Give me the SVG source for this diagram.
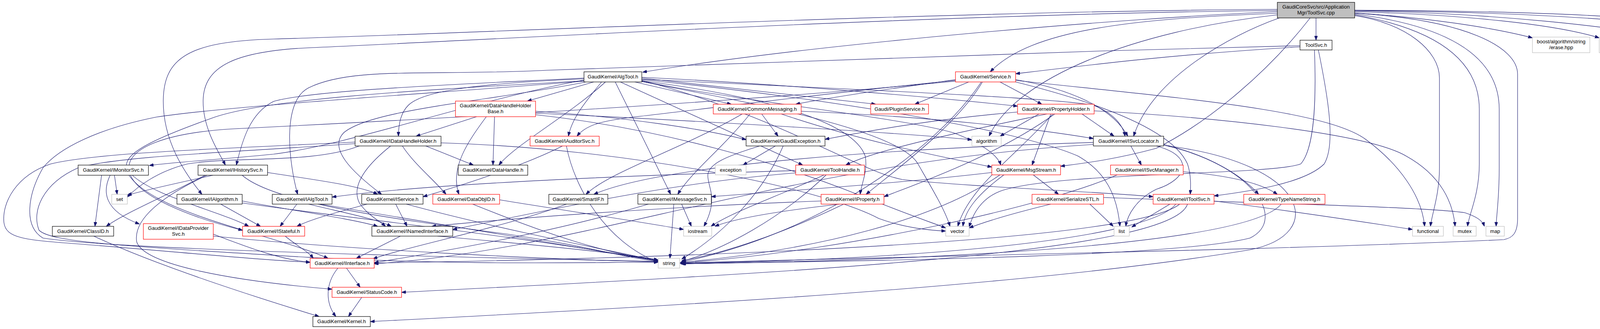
<svg xmlns="http://www.w3.org/2000/svg" width="4616" height="843" viewBox="0 0 4616 843">
<style>
.e{fill:none;stroke:#191970;stroke-width:1.1;marker-end:url(#a)}
.b{fill:#fff;stroke:#000;stroke-width:1.2}
.r{fill:#fff;stroke:#ff0000;stroke-width:1.2}
.g{fill:#fff;stroke:#bfbfbf;stroke-width:1.2}
.t{fill:#bfbfbf;stroke:#000;stroke-width:1.2}
text{font-family:"Liberation Sans",Arial,sans-serif;font-size:13px;fill:#000;text-anchor:middle}
</style>
<defs>
<marker id="a" viewBox="0 0 11 8" refX="11" refY="4" markerWidth="11" markerHeight="8" markerUnits="userSpaceOnUse" orient="auto"><path d="M0,0L11,4L0,8z" fill="#191970" stroke="#191970"/></marker>
</defs>
<rect width="4616" height="843" fill="#fff"/>
<g id="edges">
<path class="e" d="M3369,46 L3369,103"/>
<path class="e" d="M3468,33 C3650,45 3820,70 3923,97"/>
<path class="e" d="M3468,30 C3750,38 3980,62 4094,97"/>
<path class="e" d="M3468,28 C3800,32 4150,68 4296,103"/>
<path class="e" d="M3468,27 C3900,30 4350,55 4466,103"/>
<path class="e" d="M3468,26 C4000,28 4450,50 4556,103"/>
<path class="e" d="M3270,30 C2900,45 2100,110 1645,185"/>
<path class="e" d="M3270,34 C2900,48 2640,75 2535,184"/>
<path class="e" d="M3270,24 C2400,28 1100,90 700,100 C480,106 418,150 418,260 C418,360 470,440 517,498"/>
<path class="e" d="M3270,27 C2400,35 1200,105 800,122 C600,130 520,170 520,260 C520,330 560,390 577,423"/>
<path class="e" d="M3275,46 C3150,90 2950,200 2902,349"/>
<path class="e" d="M3354,46 C3250,180 3100,310 2960,380 C2850,410 2760,420 2715,426"/>
<path class="e" d="M3468,40 C3600,60 3685,130 3685,200 L3685,430 C3685,500 3665,550 3662,580"/>
<path class="e" d="M3468,38 C3650,70 3787,140 3787,280 L3787,420 C3787,500 3760,550 3757,580"/>
<path class="e" d="M3468,36 C3700,65 3838,140 3838,280 L3838,430 C3838,510 3831,550 3830,580"/>
<path class="e" d="M3468,34 C3750,50 3885,120 3885,190 L3885,560 C3885,600 3870,610 3850,614 C3300,640 2400,655 1740,674"/>
<path class="e" d="M3270,38 C2900,80 2600,200 2532,349"/>
<path class="e" d="M3328,120 C3000,140 2800,165 2600,189"/>
<path class="e" d="M3328,117 C2600,135 1700,165 1400,180 C1100,195 900,170 790,225 C720,260 740,420 762,498"/>
<path class="e" d="M3375,128 C3400,250 3420,370 3390,420 C3340,470 3200,490 3108,502"/>
<path class="e" d="M3365,128 C3370,260 3365,380 3330,420 C3250,450 2700,440 2560,490 C2510,510 2490,550 2481,582"/>
<path class="e" d="M1625,210 L1872,267"/>
<path class="e" d="M1520,210 L1350,259"/>
<path class="e" d="M1495,202 C1200,215 1080,235 1045,270 C1025,290 1020,320 1020,349"/>
<path class="e" d="M1540,210 C1500,260 1465,300 1455,349"/>
<path class="e" d="M1550,210 C1450,300 1320,370 1277,423"/>
<path class="e" d="M1643,200 L2242,267"/>
<path class="e" d="M1643,198 C2000,215 2400,250 2605,272"/>
<path class="e" d="M1495,205 C1200,260 900,370 700,395 C550,410 450,415 382,424"/>
<path class="e" d="M1495,200 C1200,215 800,230 700,260 C640,290 620,360 605,423"/>
<path class="e" d="M1500,210 C1250,260 950,280 880,340 C840,380 900,440 977,498"/>
<path class="e" d="M1495,207 C1100,230 700,250 550,300 C380,360 300,400 330,440 C380,500 560,540 637,580"/>
<path class="e" d="M1575,210 L1717,498"/>
<path class="e" d="M1588,210 L2055,423"/>
<path class="e" d="M1643,203 C2200,230 2700,250 2800,270 C2850,290 2875,320 2880,349"/>
<path class="e" d="M1643,206 C2000,300 2200,440 2310,460 C2500,480 2800,490 2952,504"/>
<path class="e" d="M1643,207 C1900,240 2180,300 2215,400 C2222,440 2205,470 2202,498"/>
<path class="e" d="M1643,209 C1900,260 2300,330 2350,420 C2390,490 2420,540 2432,580"/>
<path class="e" d="M1643,204 C2100,250 2600,330 2760,400 C2830,440 2860,500 2867,580"/>
<path class="e" d="M1643,208 C1900,260 2300,300 2440,340 C2520,370 2555,400 2562,423"/>
<path class="e" d="M1495,208 C1100,240 600,270 400,300 C250,330 150,380 110,430 C70,500 60,580 110,610 C300,640 1200,660 1685,670"/>
<path class="e" d="M2560,210 L2667,267"/>
<path class="e" d="M2480,210 L2342,267"/>
<path class="e" d="M2446,204 C2300,225 2150,245 2037,267"/>
<path class="e" d="M2446,206 C2100,240 1800,280 1620,300 C1540,310 1500,320 1477,349"/>
<path class="e" d="M2600,204 C2750,230 2850,280 2887,349"/>
<path class="e" d="M2600,206 C3000,250 3400,280 3500,360 C3580,420 3640,500 3647,580"/>
<path class="e" d="M2515,210 C2450,320 2300,430 2217,498"/>
<path class="e" d="M2446,208 C1800,270 1000,310 600,330 C420,340 330,380 330,430 C330,500 500,560 621,590"/>
<path class="e" d="M2600,210 C2800,260 3000,330 3040,420 C3050,450 3048,480 3047,498"/>
<path class="e" d="M2512,210 C2400,380 2100,600 1742,672"/>
<path class="e" d="M1220,299 L1065,349"/>
<path class="e" d="M1266,299 L1262,423"/>
<path class="e" d="M1245,299 C1200,360 1150,430 1175,498"/>
<path class="e" d="M1371,285 C1600,300 1800,330 1910,358"/>
<path class="e" d="M1371,290 C1800,310 2300,340 2488,358"/>
<path class="e" d="M1371,294 C1700,330 2000,420 2200,500 C2300,540 2370,565 2421,584"/>
<path class="e" d="M1950,292 L1992,349"/>
<path class="e" d="M1920,292 C1850,380 1770,440 1735,498"/>
<path class="e" d="M1900,292 C1750,380 1560,440 1500,498"/>
<path class="e" d="M2051,285 C2400,300 2650,330 2799,355"/>
<path class="e" d="M2000,292 C2200,360 2400,400 2539,428"/>
<path class="e" d="M2660,292 L2560,349"/>
<path class="e" d="M2770,292 L2852,349"/>
<path class="e" d="M2605,287 C2400,305 2250,330 2112,357"/>
<path class="e" d="M2690,292 L2642,423"/>
<path class="e" d="M2680,292 C2500,330 2250,380 2165,423"/>
<path class="e" d="M2700,292 C2550,400 2350,470 2263,504"/>
<path class="e" d="M2695,292 C2600,400 2480,480 2452,580"/>
<path class="e" d="M2801,284 C3100,300 3500,340 3600,400 C3690,450 3720,520 3725,580"/>
<path class="e" d="M1090,374 L1212,423"/>
<path class="e" d="M1030,374 C1060,420 1110,460 1142,498"/>
<path class="e" d="M1000,374 C930,430 900,480 920,520 C940,550 970,565 987,580"/>
<path class="e" d="M920,374 C800,420 600,400 480,420 C400,440 350,480 326,505"/>
<path class="e" d="M1129,366 C1600,380 2100,480 2250,560 C2320,585 2380,590 2421,592"/>
<path class="e" d="M909,364 C600,380 250,390 130,420 C40,450 5,520 10,570 C15,610 60,615 200,625 C450,645 650,665 794,672"/>
<path class="e" d="M909,368 C600,390 300,400 200,430 C110,470 80,540 100,590 C130,620 300,630 800,660 C1200,680 1500,672 1685,672"/>
<path class="e" d="M1440,374 C1350,420 1200,470 1083,504"/>
<path class="e" d="M1450,374 C1470,480 1550,620 1685,672"/>
<path class="e" d="M1985,374 L1902,423"/>
<path class="e" d="M1945,374 C1860,400 1812,420 1812,450 C1812,480 1840,510 1802,580"/>
<path class="e" d="M2005,374 C1950,500 1850,600 1745,664"/>
<path class="e" d="M2895,374 L2922,423"/>
<path class="e" d="M2799,365 C2300,380 1700,420 1520,498"/>
<path class="e" d="M2979,370 C3100,400 3180,450 3222,498"/>
<path class="e" d="M2960,374 C3060,400 3040,460 2960,485 C2910,510 2886,550 2882,580"/>
<path class="e" d="M2979,372 C3200,420 3300,560 3200,610 C3000,660 2200,668 1742,676"/>
<path class="e" d="M2799,370 C2000,420 1500,640 958,676"/>
<path class="e" d="M2990,374 C3350,420 3400,600 3200,640 C2600,740 1600,790 948,824"/>
<path class="e" d="M3029,440 C3150,450 3230,470 3270,498"/>
<path class="e" d="M2860,448 C2700,520 2200,640 1742,674"/>
<path class="e" d="M2037,437 C1600,450 1100,470 850,505"/>
<path class="e" d="M2110,448 C2000,500 1880,540 1820,580"/>
<path class="e" d="M2115,448 C2000,560 1850,640 1745,670"/>
<path class="e" d="M2037,443 C1700,470 1400,540 1159,588"/>
<path class="e" d="M2539,442 C2300,470 2000,490 1821,504"/>
<path class="e" d="M2645,448 L2710,498"/>
<path class="e" d="M2570,448 C2500,500 2470,540 2465,580"/>
<path class="e" d="M2560,448 C2400,560 2100,640 1745,672"/>
<path class="e" d="M293,449 L300,498"/>
<path class="e" d="M260,449 L243,580"/>
<path class="e" d="M282,449 C262,490 265,540 357,574"/>
<path class="e" d="M330,449 C400,550 700,600 840,662"/>
<path class="e" d="M530,449 C420,500 340,560 350,620 C370,680 600,720 850,741"/>
<path class="e" d="M545,449 C450,470 380,485 326,500"/>
<path class="e" d="M525,449 C430,500 320,545 272,580"/>
<path class="e" d="M685,442 C800,460 920,475 967,498"/>
<path class="e" d="M620,449 C700,520 1000,560 1300,600 C1500,630 1600,660 1685,670"/>
<path class="e" d="M620,515 C750,540 900,560 967,580"/>
<path class="e" d="M565,523 L667,580"/>
<path class="e" d="M620,520 C900,560 1300,600 1685,668"/>
<path class="e" d="M760,523 L717,580"/>
<path class="e" d="M790,523 C880,545 960,560 1002,580"/>
<path class="e" d="M820,523 C1100,570 1400,620 1685,669"/>
<path class="e" d="M940,523 C860,545 800,560 760,580"/>
<path class="e" d="M1013,523 L1042,580"/>
<path class="e" d="M1040,523 C1250,580 1500,630 1685,668"/>
<path class="e" d="M1210,523 C1400,600 1550,650 1685,667"/>
<path class="e" d="M1279,512 C1450,540 1650,570 1750,588"/>
<path class="e" d="M1450,523 C1300,580 1050,630 955,663"/>
<path class="e" d="M1745,523 L1770,580"/>
<path class="e" d="M1725,523 L1715,662"/>
<path class="e" d="M1660,523 C1400,600 1100,650 958,673"/>
<path class="e" d="M2102,515 C1700,530 1300,560 1105,580"/>
<path class="e" d="M2150,523 C2000,540 1880,560 1830,580"/>
<path class="e" d="M2160,523 C2000,600 1850,650 1745,668"/>
<path class="e" d="M2790,523 L2850,580"/>
<path class="e" d="M2690,523 C2600,545 2530,565 2481,584"/>
<path class="e" d="M2825,506 C3200,520 3650,530 3750,545 C3780,555 3795,565 3800,580"/>
<path class="e" d="M2995,523 L2897,582"/>
<path class="e" d="M3108,515 C3300,540 3500,570 3616,588"/>
<path class="e" d="M3010,523 C2950,600 2500,660 1745,675"/>
<path class="e" d="M3020,523 C2900,620 1800,660 958,674"/>
<path class="e" d="M3040,523 C3000,650 2000,700 1028,749"/>
<path class="e" d="M3280,523 C3200,620 2500,665 1745,676"/>
<path class="e" d="M240,605 C400,680 650,760 817,811"/>
<path class="e" d="M546,600 C650,640 720,665 794,672"/>
<path class="e" d="M546,605 C900,640 1400,665 1685,671"/>
<path class="e" d="M730,605 C760,630 790,645 802,662"/>
<path class="e" d="M1025,605 L912,662"/>
<path class="e" d="M1120,605 C1400,630 1600,650 1685,666"/>
<path class="e" d="M887,687 L922,736"/>
<path class="e" d="M865,687 C830,730 835,780 860,811"/>
<path class="e" d="M926,762 L892,811"/>
</g>
<g id="n0"><rect class="t" x="3270" y="6" width="198" height="40"/><text x="3369" y="22">GaudiCoreSvc/src/Application</text><text x="3369" y="37">Mgr/ToolSvc.cpp</text></g>
<g id="n1"><rect class="b" x="3328" y="103" width="82" height="25"/><text x="3369" y="120">ToolSvc.h</text></g>
<g id="n2"><rect class="g" x="3923" y="95" width="147" height="40"/><text x="3996.5" y="111">boost/algorithm/string</text><text x="3996.5" y="126">/erase.hpp</text></g>
<g id="n3"><rect class="g" x="4094" y="95" width="147" height="40"/><text x="4167.5" y="111">boost/algorithm/string</text><text x="4167.5" y="126">/predicate.hpp</text></g>
<g id="n4"><rect class="g" x="4265" y="103" width="167" height="25"/><text x="4348.5" y="120">boost/circular_buffer.hpp</text></g>
<g id="n5"><rect class="g" x="4456" y="103" width="66" height="25"/><text x="4489" y="120">cassert</text></g>
<g id="n6"><rect class="g" x="4546" y="103" width="68" height="25"/><text x="4580" y="120">numeric</text></g>
<g id="n7"><rect class="b" x="1495" y="184" width="148" height="26"/><text x="1569" y="201">GaudiKernel/AlgTool.h</text></g>
<g id="n8"><rect class="r" x="2446" y="184" width="154" height="26"/><text x="2523" y="201">GaudiKernel/Service.h</text></g>
<g id="n9"><rect class="r" x="1166" y="259" width="205" height="40"/><text x="1268.5" y="275">GaudiKernel/DataHandleHolder</text><text x="1268.5" y="290">Base.h</text></g>
<g id="n10"><rect class="r" x="1826" y="267" width="225" height="25"/><text x="1938.5" y="284">GaudiKernel/CommonMessaging.h</text></g>
<g id="n11"><rect class="r" x="2229" y="267" width="148" height="25"/><text x="2303" y="284">Gaudi/PluginService.h</text></g>
<g id="n12"><rect class="r" x="2605" y="267" width="196" height="25"/><text x="2703" y="284">GaudiKernel/PropertyHolder.h</text></g>
<g id="n13"><rect class="b" x="909" y="349" width="220" height="25"/><text x="1019" y="366">GaudiKernel/IDataHandleHolder.h</text></g>
<g id="n14"><rect class="r" x="1357" y="349" width="177" height="25"/><text x="1445.5" y="366">GaudiKernel/IAuditorSvc.h</text></g>
<g id="n15"><rect class="b" x="1910" y="349" width="202" height="25"/><text x="2011" y="366">GaudiKernel/GaudiException.h</text></g>
<g id="n16"><rect class="g" x="2488" y="349" width="75" height="25"/><text x="2525.5" y="366">algorithm</text></g>
<g id="n17"><rect class="b" x="2799" y="349" width="180" height="25"/><text x="2889" y="366">GaudiKernel/ISvcLocator.h</text></g>
<g id="n18"><rect class="b" x="200" y="423" width="180" height="26"/><text x="290" y="440">GaudiKernel/IMonitorSvc.h</text></g>
<g id="n19"><rect class="b" x="507" y="423" width="178" height="26"/><text x="596" y="440">GaudiKernel/IHistorySvc.h</text></g>
<g id="n20"><rect class="b" x="1173" y="423" width="178" height="26"/><text x="1262" y="440">GaudiKernel/DataHandle.h</text></g>
<g id="n21"><rect class="g" x="1831" y="423" width="79" height="25"/><text x="1870.5" y="440">exception</text></g>
<g id="n22"><rect class="r" x="2037" y="423" width="176" height="25"/><text x="2125" y="440">GaudiKernel/ToolHandle.h</text></g>
<g id="n23"><rect class="r" x="2539" y="423" width="176" height="25"/><text x="2627" y="440">GaudiKernel/MsgStream.h</text></g>
<g id="n24"><rect class="r" x="2843" y="423" width="186" height="25"/><text x="2936" y="440">GaudiKernel/ISvcManager.h</text></g>
<g id="n25"><rect class="g" x="286" y="498" width="40" height="25"/><text x="306" y="515">set</text></g>
<g id="n26"><rect class="b" x="453" y="498" width="167" height="25"/><text x="536.5" y="515">GaudiKernel/IAlgorithm.h</text></g>
<g id="n27"><rect class="b" x="697" y="498" width="153" height="25"/><text x="773.5" y="515">GaudiKernel/IAlgTool.h</text></g>
<g id="n28"><rect class="b" x="926" y="498" width="157" height="25"/><text x="1004.5" y="515">GaudiKernel/IService.h</text></g>
<g id="n29"><rect class="r" x="1108" y="498" width="171" height="25"/><text x="1193.5" y="515">GaudiKernel/DataObjID.h</text></g>
<g id="n30"><rect class="b" x="1405" y="498" width="151" height="25"/><text x="1480.5" y="515">GaudiKernel/SmartIF.h</text></g>
<g id="n31"><rect class="b" x="1633" y="498" width="188" height="25"/><text x="1727" y="515">GaudiKernel/IMessageSvc.h</text></g>
<g id="n32"><rect class="r" x="2102" y="498" width="161" height="25"/><text x="2182.5" y="515">GaudiKernel/IProperty.h</text></g>
<g id="n33"><rect class="r" x="2642" y="498" width="183" height="25"/><text x="2733.5" y="515">GaudiKernel/SerializeSTL.h</text></g>
<g id="n34"><rect class="r" x="2952" y="498" width="156" height="25"/><text x="3030" y="515">GaudiKernel/IToolSvc.h</text></g>
<g id="n35"><rect class="r" x="3184" y="498" width="208" height="25"/><text x="3288" y="515">GaudiKernel/TypeNameString.h</text></g>
<g id="n36"><rect class="b" x="134" y="580" width="157" height="25"/><text x="212.5" y="597">GaudiKernel/ClassID.h</text></g>
<g id="n37"><rect class="r" x="367" y="573" width="179" height="40"/><text x="456.5" y="589">GaudiKernel/IDataProvider</text><text x="456.5" y="604">Svc.h</text></g>
<g id="n38"><rect class="r" x="621" y="580" width="159" height="25"/><text x="700.5" y="597">GaudiKernel/IStateful.h</text></g>
<g id="n39"><rect class="b" x="952" y="580" width="207" height="25"/><text x="1055.5" y="597">GaudiKernel/INamedInterface.h</text></g>
<g id="n40"><rect class="g" x="1750" y="580" width="72" height="25"/><text x="1786" y="597">iostream</text></g>
<g id="n41"><rect class="g" x="2421" y="580" width="60" height="25"/><text x="2451" y="597">vector</text></g>
<g id="n42"><rect class="g" x="2852" y="580" width="39" height="25"/><text x="2871.5" y="597">list</text></g>
<g id="n43"><rect class="g" x="3616" y="580" width="79" height="25"/><text x="3655.5" y="597">functional</text></g>
<g id="n44"><rect class="g" x="3720" y="580" width="59" height="25"/><text x="3749.5" y="597">mutex</text></g>
<g id="n45"><rect class="g" x="3804" y="580" width="47" height="25"/><text x="3827.5" y="597">map</text></g>
<g id="n46"><rect class="r" x="794" y="662" width="164" height="25"/><text x="876" y="679">GaudiKernel/IInterface.h</text></g>
<g id="n47"><rect class="g" x="1685" y="662" width="55" height="25"/><text x="1712.5" y="679">string</text></g>
<g id="n48"><rect class="r" x="850" y="736" width="178" height="26"/><text x="939" y="753">GaudiKernel/StatusCode.h</text></g>
<g id="n49"><rect class="b" x="801" y="811" width="147" height="26"/><text x="874.5" y="828">GaudiKernel/Kernel.h</text></g>
</svg>
